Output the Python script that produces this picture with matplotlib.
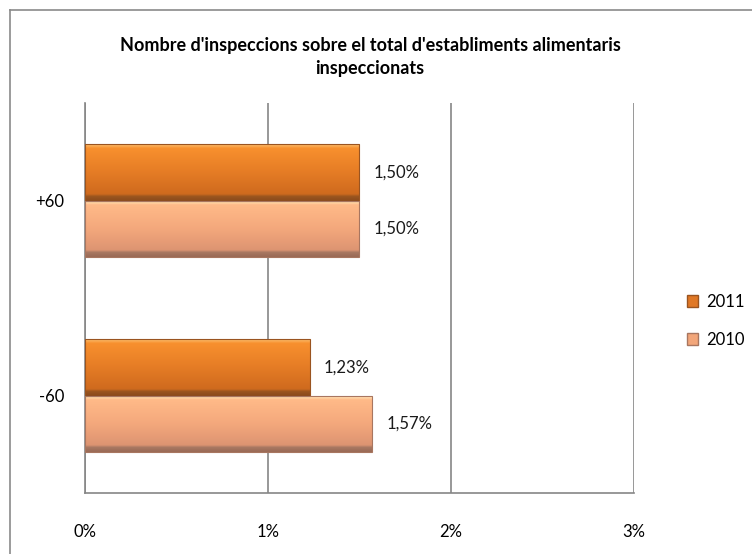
import matplotlib.pyplot as plt
import matplotlib.colors as mcolors
from matplotlib.patches import Patch
import numpy as np

plt.rcParams['font.family'] = ['Lato', 'DejaVu Sans']

categories = ['-60', '+60']
years = ['2011', '2010']
values_2011 = [1.23, 1.50]
values_2010 = [1.57, 1.50]
labels_2011 = ['1,23%', '1,50%']
labels_2010 = ['1,57%', '1,50%']
xticks = [0, 1, 2, 3]
xtick_labels = ['0%', '1%', '2%', '3%']

# gradient stops, top of bar -> bottom of bar
grad_2011 = [(0.0, '#fcc070'), (0.07, '#f8902e'), (0.5, '#e57c25'),
             (0.88, '#cf6a1e'), (0.92, '#9c561f'), (1.0, '#8a4a1c')]
grad_2010 = [(0.0, '#fff4c8'), (0.08, '#ffba88'), (0.5, '#f4a87c'),
             (0.88, '#dd9472'), (0.92, '#a87862'), (1.0, '#9a6a56')]
edge_2011 = '#9a5420'
edge_2010 = '#a87660'

fig = plt.figure(figsize=(7.52, 5.54), dpi=100)
ax = fig.add_axes([0.113, 0.110, 0.730, 0.704])

y = np.arange(len(categories))
h = 0.29


def gradient_bars(bars, stops, edge):
    cmap = mcolors.LinearSegmentedColormap.from_list('g', stops)
    grad = np.linspace(0, 1, 200).reshape(-1, 1)
    for b in bars:
        x0, y0 = b.get_x(), b.get_y()
        w, hh = b.get_width(), b.get_height()
        b.set_facecolor('none')
        b.set_edgecolor(edge)
        b.set_linewidth(0.8)
        im = ax.imshow(grad, cmap=cmap, aspect='auto', origin='upper',
                       extent=[x0, x0 + w, y0, y0 + hh], zorder=2,
                       interpolation='bilinear')
        im.set_clip_path(b)


b11 = ax.barh(y + h / 2, values_2011, height=h, zorder=3)
b10 = ax.barh(y - h / 2, values_2010, height=h, zorder=3)
gradient_bars(b11, grad_2011, edge_2011)
gradient_bars(b10, grad_2010, edge_2010)

for bars, labs in [(b11, labels_2011), (b10, labels_2010)]:
    for b, lab in zip(bars, labs):
        ax.annotate(lab, (b.get_width(), b.get_y() + b.get_height() / 2),
                    xytext=(14, 0), textcoords='offset pixels',
                    va='center', ha='left', fontsize=12, color='#1a1a1a')

ax.set_xlim(0, 3)
ax.set_ylim(-0.5, 1.5)
ax.set_xticks(xticks)
ax.set_xticklabels(xtick_labels, fontsize=12)
ax.set_yticks(y)
ax.set_yticklabels(categories, fontsize=12)
ax.tick_params(axis='x', length=0, pad=22)
ax.tick_params(axis='y', length=0, pad=15)
ax.grid(axis='x', color='#868686', linewidth=1.2, zorder=0)
ax.set_axisbelow(True)
for s in ['top', 'right']:
    ax.spines[s].set_visible(False)
for s in ['left', 'bottom']:
    ax.spines[s].set_color('#868686')
    ax.spines[s].set_linewidth(1.2)

fig.text(0.492, 0.897, "Nombre d'inspeccions sobre el total d'establiments alimentaris\ninspeccionats",
         ha='center', va='center', fontsize=13, fontweight='bold', linespacing=1.4)

handles = [Patch(facecolor='#e07826', edgecolor=edge_2011),
           Patch(facecolor='#f2a67a', edgecolor=edge_2010)]
fig.legend(handles, years, loc='center left', bbox_to_anchor=(0.902, 0.421),
           frameon=False, fontsize=12, handlelength=0.7, handleheight=0.7,
           handletextpad=0.5, labelspacing=1.35, borderpad=0)

# chart border (only left and top visible in the crop)
fig.add_artist(plt.Line2D([0.0135, 0.0135], [0, 0.982], color='#8a8a8a', linewidth=1.2))
fig.add_artist(plt.Line2D([0.0135, 1.0], [0.982, 0.982], color='#8a8a8a', linewidth=1.2))

fig.savefig('out.png', dpi=100)
